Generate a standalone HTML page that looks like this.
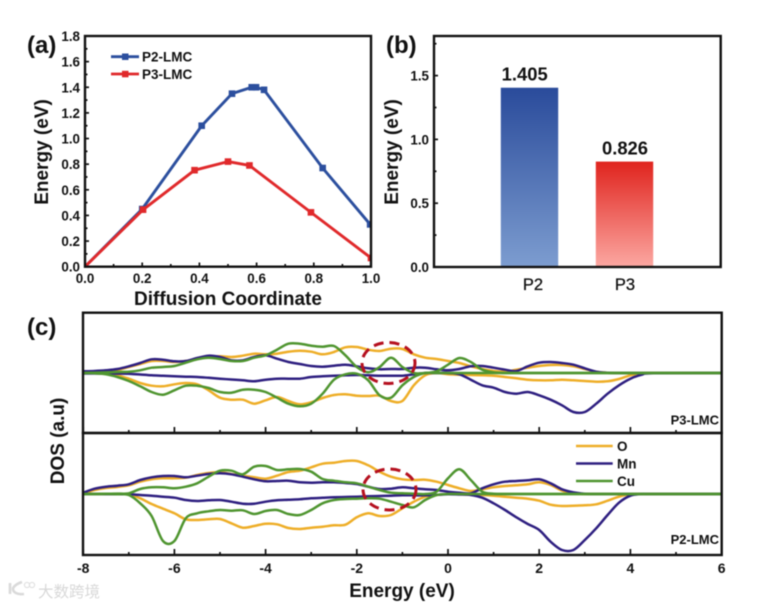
<!DOCTYPE html>
<html>
<head>
<meta charset="utf-8">
<title>Diffusion barrier and DOS of P2-LMC and P3-LMC</title>
<style>
html,body{margin:0;padding:0;background:#fff;width:759px;height:606px;overflow:hidden}
svg{display:block;filter:blur(.55px)}
text{font-family:"Liberation Sans","Noto Sans CJK SC",sans-serif;fill:#111;font-weight:bold}
.frame{fill:none;stroke:#111;stroke-width:2.4}
.tick{stroke:#111;stroke-width:1.7}
.series{fill:none;stroke-width:2.5;stroke-linejoin:round}
.panel-label{font-size:24px}
.title{font-size:19px}
.tk{font-size:13.4px}
</style>
</head>
<body>
<svg id="fig" width="759" height="606" viewBox="0 0 759 606" xmlns="http://www.w3.org/2000/svg">
<defs>
<clipPath id="clip-a"><rect x="85" y="36" width="286" height="231"/></clipPath>
<linearGradient id="grad-p2" x1="0" y1="0" x2="0" y2="1"><stop offset="0" stop-color="#2a4b9b"/><stop offset="1" stop-color="#7d9dd0"/></linearGradient>
<linearGradient id="grad-p3" x1="0" y1="0" x2="0" y2="1"><stop offset="0" stop-color="#e0241e"/><stop offset="1" stop-color="#fca8a2"/></linearGradient>
</defs>

<g id="panel-a">
  <g id="a-marks" clip-path="url(#clip-a)"></g>
  <g id="a-axes"></g>
  <rect class="frame" x="85" y="36" width="286" height="230.7"/>
  <text class="panel-label" x="27" y="53">(a)</text>
  <text class="title" transform="translate(48,152) rotate(-90)" text-anchor="middle">Energy (eV)</text>
  <text class="title" x="228" y="305" text-anchor="middle">Diffusion Coordinate</text>
  <g>
    <line x1="111" x2="139" y1="56.7" y2="56.7" stroke="#2c4f9e" stroke-width="2.8"/>
    <rect x="122" y="53.5" width="6.5" height="6.5" fill="#2c4f9e"/>
    <text x="142" y="61.5" font-size="13.5">P2-LMC</text>
    <line x1="111" x2="139" y1="74" y2="74" stroke="#e0292b" stroke-width="2.8"/>
    <rect x="122" y="70.8" width="6.5" height="6.5" fill="#e0292b"/>
    <text x="142" y="79" font-size="13.5">P3-LMC</text>
  </g>
</g>

<g id="panel-b">
  <g id="b-marks"></g>
  <g id="b-axes"></g>
  <rect class="frame" x="434" y="36" width="286.7" height="231"/>
  <text class="panel-label" x="386" y="53">(b)</text>
  <text class="title" transform="translate(398,152) rotate(-90)" text-anchor="middle">Energy (eV)</text>
</g>

<g id="panel-c">
  <g id="c-marks"></g>
  <g id="c-axes"></g>
  <rect class="frame" x="83" y="312.7" width="638.7" height="120.3"/>
  <rect class="frame" x="83" y="433" width="638.7" height="122"/>
  <text class="panel-label" x="27" y="335">(c)</text>
  <text class="title" transform="translate(64,441) rotate(-90)" text-anchor="middle">DOS (a.u)</text>
  <text class="title" x="402" y="597" text-anchor="middle">Energy (eV)</text>
  <text x="719" y="424.5" text-anchor="end" font-size="13">P3-LMC</text>
  <text x="719" y="544" text-anchor="end" font-size="13">P2-LMC</text>
  <ellipse cx="388.5" cy="363" rx="26.5" ry="20.5" fill="none" stroke="#b5101f" stroke-width="3" stroke-dasharray="10 6"/>
  <ellipse cx="389.5" cy="489.5" rx="26.5" ry="20.5" fill="none" stroke="#b5101f" stroke-width="3" stroke-dasharray="10 6"/>
  <g>
    <line x1="576" x2="612.7" y1="446" y2="446" stroke="#eeae28" stroke-width="2.5"/>
    <text x="617" y="451" font-size="13.5">O</text>
    <line x1="576" x2="612.7" y1="463.5" y2="463.5" stroke="#2e1f80" stroke-width="2.5"/>
    <text x="617" y="468.5" font-size="13.5">Mn</text>
    <line x1="576" x2="612.7" y1="481" y2="481" stroke="#4f9530" stroke-width="2.5"/>
    <text x="617" y="486" font-size="13.5">Cu</text>
  </g>
</g>

<g opacity=".9">
  <path d="M10 583v11M22 582c-6 2-9 5-9 7 0 3 4 6 11 5" fill="none" stroke="#d6d6d6" stroke-width="2.6"/>
  <circle cx="27" cy="585" r="2.6" fill="none" stroke="#dcdcdc" stroke-width="1.1"/>
  <circle cx="32" cy="585" r="2.6" fill="none" stroke="#dcdcdc" stroke-width="1.1"/>
  <text x="38" y="597" font-size="15.5" style="fill:#d4d4d4;font-weight:normal">大数跨境</text>
</g>
</svg>

<script>
// ---------- Panel (a) data ----------
const p2Coord  = [0, 0.2, 0.408, 0.514, 0.583, 0.598, 0.626, 0.831, 0.997];
const p2Energy = [0, 0.45, 1.10, 1.35, 1.40, 1.40, 1.38, 0.77, 0.33];
const p3Coord  = [0, 0.203, 0.383, 0.5, 0.575, 0.79, 1.0];
const p3Energy = [0, 0.445, 0.753, 0.82, 0.79, 0.424, 0.068];
const aXTicks  = ['0.0','0.2','0.4','0.6','0.8','1.0'];
const aYTicks  = ['0.0','0.2','0.4','0.6','0.8','1.0','1.2','1.4','1.6','1.8'];

// ---------- Panel (b) data ----------
const barCategories = ['P2','P3'];
const barValues     = [1.405, 0.826];
const bYTicks       = ['0.0','0.5','1.0','1.5'];

// ---------- Panel (c) data ----------
const energies = [
 -8,-7.75,-7.5,-7.25, -7,-6.75,-6.5,-6.25, -6,-5.75,-5.5,-5.25, -5,-4.75,-4.5,-4.25,
 -4,-3.75,-3.5,-3.25, -3,-2.75,-2.5,-2.25, -2,-1.75,-1.5,-1.25, -1,-0.75,-0.5,-0.25,
 0,0.25,0.5,0.75, 1,1.25,1.5,1.75, 2,2.25,2.5,2.75, 3,3.25,3.5,3.75, 4,4.25,4.5,6];
const cXTicks = ['-8','-6','-4','-2','0','2','4','6'];

const p3MnUp = [1.7,2,2.7,4, 6.7,10,13.7,13.3, 11.7,12,15,17.3, 16,12.7,12.7,16, 17.7,14.3,11,9, 7,6.3,7.3,8.3, 6.7,4.7,3.7,4, 4,5.3,5.3,3.7, 2.7,4,6.7,7, 5.3,3.3,2,6.7, 10.3,11,10,8.3, 4.7,1.3,0.3,0, 0,0,0,0];
const p3OUp  = [0,0.5,1.5,3, 6,9,12,12, 11,12,14,16, 16.7,16,17.3,19.3, 18.7,19.3,21.3,22.3, 21.3,18.7,21,25.7, 26,23.3,22,24.3, 24,18.7,15.3,14, 12,10,6.7,4, 2,1.3,3.3,5.3, 7,8,8,6.7, 4,1.3,0.3,0, 0,0,0,0];
const p3CuUp = [0,0.3,0.6,1, 1.3,2.7,5.3,6, 7,10.3,13.7,15.3, 14,12,12,15.3, 17.7,23.3,29.3,29.3, 27.3,26.3,27,17.7, 6,0.7,6,15.3, 6,0,0,1.7, 8.3,15,11,3.3, 0.7,0,0,0, 0,0,0,0, 0,0,0,0, 0,0,0,0];
const p3MnDown = [-0.5,-0.5,-0.5,-0.6, -0.7,-1.5,-2.3,-2.8, -3.3,-3.7,-4,-4.8, -5.7,-6.5,-7.3,-8.3, -6.7,-5.7,-5.7,-5.7, -4,-3.3,-2.7,-2.3, -2,-2.3,-2.7,-2.7, -2.7,-1.3,0,0, 0,-1.3,-6.7,-12.3, -14.7,-19,-20.7,-19, -22.3,-26.7,-32.3,-39, -39,-30.7,-20.7,-12.3, -5.7,-1.7,-0.3,0];
const p3ODown  = [0,-0.3,-0.7,-2.3, -5.7,-10,-12.7,-13.3, -11.3,-10,-11.3,-17.3, -24.7,-26.7,-26.7,-30.7, -27.3,-24,-28,-31.3, -29.3,-25,-22,-21.3, -22.7,-23,-22.7,-28, -28,-12.3,-2.3,0, -1.3,-1.7,-2,-2.3, -2.7,-4,-5.3,-6.7, -7.3,-7.3,-6.7,-7.3, -8,-8.7,-8.3,-6, -2.3,-0.3,0,0];
const p3CuDown = [0,-0.3,-1.3,-4, -8,-13.3,-19,-21.7, -17.3,-12.7,-12.7,-15, -19,-19.7,-16.7,-16.7, -19,-24.7,-30.7,-33.3, -30.7,-20.7,-6.7,-1.3, -0.7,-7.3,-22.3,-24.7, -12.3,-4,0,0, 0,0,0,0, 0,0,0,0, 0,0,0,0, 0,0,0,0, 0,0,0,0];

const p2MnUp = [1.3,5.3,7.3,8.3, 9.7,14,16.7,18, 18,16.7,18.3,20, 20.7,19.7,17.3,14.7, 12.7,13,13.3,11.7, 11.3,11.7,11.7,11, 10,7.3,5,5.3, 6.7,5.7,4.7,4, 2.3,1.3,0.7,5.7, 9.7,12.3,13,13.7, 14.7,10.7,4.7,1.7, 0.3,0,0,0, 0,0,0,0];
const p2OUp  = [0.7,4,6,7, 8.7,12.3,14.7,15.7, 15.7,16.3,19,21, 21.7,20,18.3,16.7, 15.3,18.3,22,23.3, 26.7,30.3,31.3,33, 33,28.7,22.3,17.3, 14.7,14,14.3,12.3, 9,5.7,3,4.7, 6.7,8,8.7,9.7, 11.7,9,3.3,0.7, 0,0,0,0, 0,0,0,0];
const p2CuUp = [0,0,0.2,0.4, 0.7,5,6.7,6.7, 5.7,7.3,10.7,17.3, 23.3,23.3,19.7,27.3, 28,24,24.7,25, 22.3,15,13.3,11.7, 10.7,7.3,4,1.3, 0.7,0.3,0,2.3, 15.7,24.7,14,2.3, 0.3,0,0,0, 0,0,0,0, 0,0,0,0, 0,0,0,0];
const p2MnDown = [0,0,-0.1,-0.2, -0.3,-1,-1.7,-2.7, -3.7,-6,-7,-6.3, -6,-7.7,-9.7,-9.7, -7.7,-6.3,-5.8,-5.3, -4.3,-3.8,-3.3,-3, -2.7,-2.3,-2,-1.7, -1.3,-1.3,-1.3,-0.8, -0.3,-0.5,-1,-3.7, -9.3,-16,-23.3,-30, -36,-47.7,-56,-56, -46,-34.3,-21,-8.7, -1.7,0,0,0];
const p2ODown  = [0,0,0,0, -0.3,-4.3,-10,-14.7, -19.3,-25.3,-26,-25.3, -25,-29.3,-33.7,-32, -29.7,-30.3,-34,-35, -33.7,-32.7,-31.3,-30.7, -23.3,-19.3,-22,-21, -14.3,-7.7,-2.7,-1, 0,-0.3,-0.7,-1, -1.7,-2.7,-3.7,-4.7, -6.7,-10.7,-12,-11.7, -11.3,-10.3,-6.7,-2.7, -0.3,0,0,0];
const p2CuDown = [0,0,0,-0.2, -1,-9.3,-22,-47, -47,-24.3,-19.3,-17.3, -16,-16.7,-16.3,-20, -17,-16,-20,-21, -16,-9.3,-6,-5, -4.7,-4.3,-4.7,-7.7, -11,-13.3,-6,-1, 0,0,0,0, 0,0,0,0, 0,0,0,0, 0,0,0,0, 0,0,0,0];

// ---------- Helpers ----------
const NS = 'http://www.w3.org/2000/svg';
function mk(tag, attrs, parent) {
  const n = document.createElementNS(NS, tag);
  for (const k in attrs) n.setAttribute(k, attrs[k]);
  parent.appendChild(n);
  return n;
}
function smoothPath(pts) {
  let d = 'M' + pts[0][0].toFixed(2) + ' ' + pts[0][1].toFixed(2);
  for (let i = 0; i < pts.length - 1; i++) {
    const p0 = pts[Math.max(i - 1, 0)], p1 = pts[i], p2 = pts[i + 1], p3 = pts[Math.min(i + 2, pts.length - 1)];
    const c1x = p1[0] + (p2[0] - p0[0]) / 6, c1y = p1[1] + (p2[1] - p0[1]) / 6;
    const c2x = p2[0] - (p3[0] - p1[0]) / 6, c2y = p2[1] - (p3[1] - p1[1]) / 6;
    d += 'C' + c1x.toFixed(2) + ' ' + c1y.toFixed(2) + ' ' + c2x.toFixed(2) + ' ' + c2y.toFixed(2) + ' ' + p2[0].toFixed(2) + ' ' + p2[1].toFixed(2);
  }
  return d;
}

// ---------- Panel (a) ----------
const xA = v => 85 + v * 286;
const yA = v => 266.7 - v * (230.7 / 1.8);
const aMarks = document.getElementById('a-marks');
const aAxes = document.getElementById('a-axes');

function drawLineSeries(xs, ys, color, key) {
  const pts = xs.map((x, i) => xA(x).toFixed(2) + ',' + yA(ys[i]).toFixed(2)).join(' ');
  const line = mk('polyline', {points: pts, fill: 'none', stroke: color, 'stroke-width': 2.9, 'stroke-linejoin': 'round'}, aMarks);
  
  
  xs.forEach((x, i) => {
    const m = mk('rect', {x: xA(x) - 3.3, y: yA(ys[i]) - 3.3, width: 6.6, height: 6.6, fill: color}, aMarks);
    
    
  });
}
drawLineSeries(p2Coord, p2Energy, '#2c4f9e', 'p2-lmc');
drawLineSeries(p3Coord, p3Energy, '#e0292b', 'p3-lmc');

aXTicks.forEach((lab, i) => {
  const v = parseFloat(lab);
  const t = mk('line', {class: 'tick', x1: xA(v), x2: xA(v), y1: 266.7, y2: 262.5}, aAxes);
  
  
  const l = mk('text', {class: 'tk', x: xA(v), y: 283, 'text-anchor': 'middle'}, aAxes);
  l.textContent = lab;
  
  
  if (i < aXTicks.length - 1) {
    const mt = mk('line', {class: 'tick', x1: xA(v + 0.1), x2: xA(v + 0.1), y1: 266.7, y2: 264}, aAxes);
    
    
  }
});
aYTicks.forEach((lab, i) => {
  const v = parseFloat(lab);
  const t = mk('line', {class: 'tick', x1: 85, x2: 89, y1: yA(v), y2: yA(v)}, aAxes);
  
  
  const l = mk('text', {class: 'tk', x: 80, y: yA(v) + 5, 'text-anchor': 'end'}, aAxes);
  l.textContent = lab;
  
  
  if (i < aYTicks.length - 1) {
    const mt = mk('line', {class: 'tick', x1: 85, x2: 87.5, y1: yA(v + 0.1), y2: yA(v + 0.1)}, aAxes);
    
    
  }
});

// ---------- Panel (b) ----------
const yB = v => 267 - v * 127.6;
const xB = i => 529.5 + i * 95;
const bMarks = document.getElementById('b-marks');
const bAxes = document.getElementById('b-axes');
const barGrads = ['url(#grad-p2)', 'url(#grad-p3)'];
const bLabelOffset = [3.5, 0.5];
barValues.forEach((v, i) => {
  const r = mk('rect', {x: xB(i) - 28.7, y: yB(v), width: 57.4, height: 267 - yB(v), fill: barGrads[i]}, bMarks);
  
  
  const vl = mk('text', {x: xB(i) - 4.8 + i * 5.3, y: yB(v) - 7, 'text-anchor': 'middle', 'font-size': 18.4}, bMarks);
  vl.textContent = v.toFixed(3);
  
  
  const cl = mk('text', {x: xB(i) + bLabelOffset[i], y: 290, 'text-anchor': 'middle', 'font-size': 16.5, style: 'font-weight:normal;stroke:#111;stroke-width:.3'}, bMarks);
  cl.textContent = barCategories[i];
  
  
});
bYTicks.forEach((lab, i) => {
  const v = parseFloat(lab);
  const t = mk('line', {class: 'tick', x1: 434, x2: 438, y1: yB(v), y2: yB(v)}, bAxes);
  
  
  const l = mk('text', {class: 'tk', x: 429, y: yB(v) + 5, 'text-anchor': 'end'}, bAxes);
  l.textContent = lab;
  
  
  const mt = mk('line', {class: 'tick', x1: 434, x2: 436.5, y1: yB(v + 0.25), y2: yB(v + 0.25)}, bAxes);
  
  
});

// ---------- Panel (c) ----------
const xC = e => 448 + e * 45.6;
const yTop = v => 373 - v;
const yBot = v => 494 - v;
const cMarks = document.getElementById('c-marks');
const cAxes = document.getElementById('c-axes');

function drawDos(values, yScale, color, key) {
  const pts = values.map((v, i) => [xC(energies[i]), yScale(v)]);
  const p = mk('path', {class: 'series', d: smoothPath(pts), stroke: color}, cMarks);
  
  
}
const cO = '#eeae28', cMn = '#2e1f80', cCu = '#4f9530';
drawDos(p3OUp, yTop, cO, 'p3-o-up');
drawDos(p3ODown, yTop, cO, 'p3-o-down');
drawDos(p3MnUp, yTop, cMn, 'p3-mn-up');
drawDos(p3MnDown, yTop, cMn, 'p3-mn-down');
drawDos(p3CuUp, yTop, cCu, 'p3-cu-up');
drawDos(p3CuDown, yTop, cCu, 'p3-cu-down');
drawDos(p2OUp, yBot, cO, 'p2-o-up');
drawDos(p2ODown, yBot, cO, 'p2-o-down');
drawDos(p2MnUp, yBot, cMn, 'p2-mn-up');
drawDos(p2MnDown, yBot, cMn, 'p2-mn-down');
drawDos(p2CuUp, yBot, cCu, 'p2-cu-up');
drawDos(p2CuDown, yBot, cCu, 'p2-cu-down');

const cBaselines = [433, 555];
cXTicks.forEach((lab, i) => {
  const e = parseFloat(lab);
  cBaselines.forEach(b => {
    const t = mk('line', {class: 'tick', x1: xC(e), x2: xC(e), y1: b, y2: b - 6}, cAxes);
    
    
    if (i < cXTicks.length - 1) {
      const mt = mk('line', {class: 'tick', x1: xC(e + 1), x2: xC(e + 1), y1: b, y2: b - 3}, cAxes);
      
      
    }
  });
  const l = mk('text', {x: xC(e), y: 573, 'text-anchor': 'middle', 'font-size': 14}, cAxes);
  l.textContent = lab;
  
  
});
</script>
</body>
</html>
